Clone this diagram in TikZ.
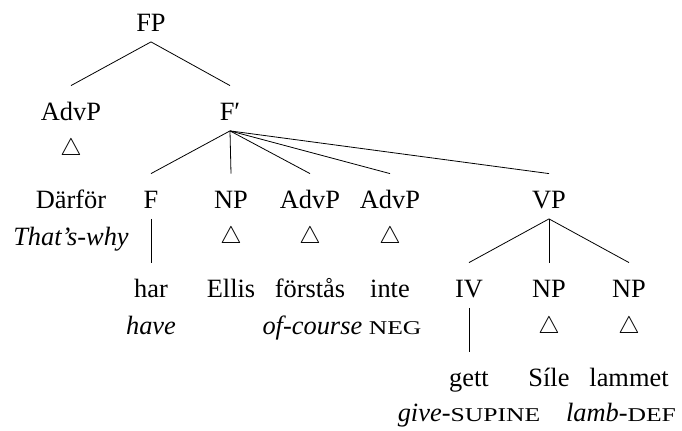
\documentclass[tikz,border=0pt]{standalone}
\usepackage{fontspec}
\setmainfont{Liberation Serif}
\usepackage{graphicx}
\newcommand{\fakesc}[1]{\scalebox{0.97}[0.74]{#1}}

\begin{document}
\begin{tikzpicture}[x=0.5pt,y=-0.5pt,
  lab/.style={font=\fontsize{13.2}{15}\selectfont, anchor=base,
    inner xsep=1pt, inner ysep=1.5pt, text height=16pt, text depth=3.25pt},
  gls/.style={font=\fontsize{13.2}{15}\selectfont\itshape, anchor=base, inner sep=0pt},
  tri/.style={font=\fontsize{12}{14}\selectfont, inner sep=0pt}]
  \useasboundingbox (0,0) rectangle (682,431);
  % top
  \node[lab] (fp) at (151,32) {FP};
  \node[lab] (advp1) at (71,121) {AdvP};
  \node[lab] (fbar) at (230,121) {F′};
  \node[tri] (t1) at (71,150) {$\triangle$};
  \draw (fp.south) -- (advp1.north);
  \draw (fp.south) -- (fbar.north);
  % daughters of F'
  \node[lab] (darfor) at (71,209) {Därför};
  \node[gls] (thatswhy) at (71,246) {That’s-why};
  \node[lab] (f) at (151,209) {F};
  \node[lab] (np1) at (231,209) {NP};
  \node[lab] (advp2) at (310,209) {AdvP};
  \node[lab] (advp3) at (390,209) {AdvP};
  \node[lab] (vp) at (549,209) {VP};
  \draw (fbar.south) -- (f.north);
  \draw (fbar.south) -- (np1.north);
  \draw (fbar.south) -- (advp2.north);
  \draw (fbar.south) -- (advp3.north);
  \draw (fbar.south) -- (vp.north);
  \node[tri] (t2) at (231,238) {$\triangle$};
  \node[tri] (t3) at (310,238) {$\triangle$};
  \node[tri] (t4) at (390,238) {$\triangle$};
  % words
  \node[lab] (har) at (151,298) {har};
  \node[lab] (ellis) at (231,298) {Ellis};
  \node[lab] (forstas) at (310,298) {förstås};
  \node[lab] (inte) at (390,298) {inte};
  \draw (f.south) -- (har.north);
  \node[gls] (have) at (151,335) {have};
  \node[gls] (ofcourse) at (342,335) {of-course \upshape\fakesc{NEG}};
  % VP
  \node[lab] (iv) at (469,298) {IV};
  \node[lab] (np2) at (549,298) {NP};
  \node[lab] (np3) at (629,298) {NP};
  \draw (vp.south) -- (iv.north);
  \draw (vp.south) -- (np2.north);
  \draw (vp.south) -- (np3.north);
  \node[tri] (t5) at (549,328) {$\triangle$};
  \node[tri] (t6) at (629,328) {$\triangle$};
  \node[lab] (gett) at (469,387) {gett};
  \node[lab] (sile) at (549,387) {Síle};
  \node[lab] (lammet) at (629,387) {lammet};
  \draw (iv.south) -- (gett.north);
  \node[gls] (give) at (469,422) {give-\upshape\fakesc{SUPINE}};
  \node[gls] (lamb) at (621,422) {lamb-\upshape\fakesc{DEF}};
\end{tikzpicture}
\end{document}
